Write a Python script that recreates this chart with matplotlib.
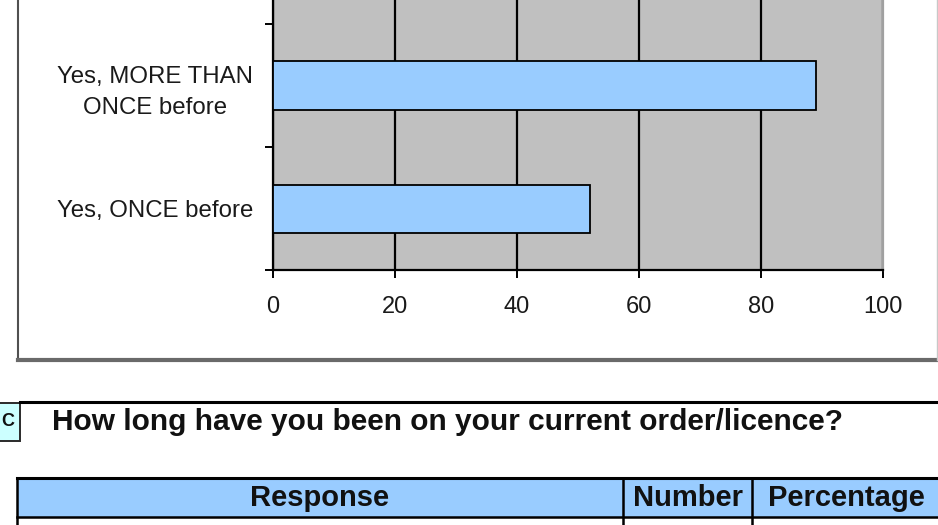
import matplotlib
matplotlib.use("Agg")
import matplotlib.pyplot as plt
from matplotlib.patches import Rectangle
from matplotlib.lines import Line2D

plt.rcParams['font.family'] = ['Liberation Sans', 'DejaVu Sans']

# ---- data ----
categories = ["Yes, ONCE before", "Yes, MORE THAN\nONCE before"]
values = [52, 89]
x_ticks = [0, 20, 40, 60, 80, 100]
section_letter = "C"
section_title = "How long have you been on your current order/licence?"
table_headers = ["Response", "Number", "Percentage"]

W, H = 938, 525
fig = plt.figure(figsize=(W / 100, H / 100), dpi=100)
fig.patch.set_facecolor("white")


def fx(x):
    return x / W


def fy(y):
    return 1 - y / H


# ---- chart outer box ----
fig.add_artist(Line2D([fx(18), fx(18)], [fy(-5), fy(360)], color="#505050", lw=1.5))
fig.add_artist(Line2D([fx(18), fx(940)], [fy(360), fy(360)], color="#6a6a6a", lw=3.0))
fig.add_artist(Line2D([fx(936.5), fx(936.5)], [fy(-5), fy(360)], color="#c8c8c8", lw=1.0))

# ---- bar chart ----
unit = 123.0
ax = fig.add_axes([fx(273), fy(270), (883 - 273) / W, 270 / H])
ax.set_facecolor("#C0C0C0")
pos = list(range(len(categories)))
ax.barh(pos, values, height=48 / unit, color="#99CCFF", edgecolor="black", linewidth=1.3, zorder=3)
ax.set_xlim(0, 100)
ax.set_ylim(-0.5, -0.5 + 270 / unit)
ax.set_xticks(x_ticks)
ax.set_xticklabels([str(t) for t in x_ticks])
ax.xaxis.grid(True, color="black", linewidth=1.6, zorder=1)
ax.set_axisbelow(True)

ax.set_yticks([-0.5, 0.5, 1.5])
ax.set_yticklabels([])
ax.set_yticks(pos, minor=True)
ax.set_yticklabels(categories, minor=True)
for lab in ax.get_yticklabels(minor=True):
    lab.set_multialignment("center")
    lab.set_linespacing(1.55)
ax.tick_params(axis="y", which="major", length=5.8, width=1.4, direction="out", color="black")
ax.tick_params(axis="y", which="minor", length=0, pad=14.4, labelsize=17.3, labelcolor="#1a1a1a")
ax.tick_params(axis="x", which="major", length=5.8, width=1.4, direction="out", color="black",
               pad=13, labelsize=17, labelcolor="#1a1a1a")

for s in ["left", "bottom"]:
    ax.spines[s].set_color("black")
    ax.spines[s].set_linewidth(1.6)
ax.spines["top"].set_visible(False)
ax.spines["right"].set_color("#a0a0a0")
ax.spines["right"].set_linewidth(1.6)

# ---- section header ----
fig.add_artist(Line2D([fx(20), fx(940)], [fy(402), fy(402)], color="black", lw=2.2))
fig.add_artist(Rectangle((fx(-3), fy(441)), 23 / W, 38 / H, facecolor="#CCFFFF",
                         edgecolor="#2a2a2a", lw=1.4, transform=fig.transFigure))
fig.text(fx(1.5), fy(422), section_letter, ha="left", va="center", fontsize=13,
         fontweight="bold", color="#111111")
fig.text(fx(52), fy(422), section_title, ha="left", va="center", fontsize=21.5,
         fontweight="bold", color="#111111")

# ---- table header ----
col_edges = [17, 623, 752, 945]
fig.add_artist(Rectangle((fx(17), fy(517)), (945 - 17) / W, 39 / H, facecolor="#99CCFF",
                         edgecolor="none", transform=fig.transFigure))
fig.add_artist(Line2D([fx(17), fx(945)], [fy(478), fy(478)], color="black", lw=2.2))
fig.add_artist(Line2D([fx(17), fx(945)], [fy(517), fy(517)], color="black", lw=1.8))
for xe in col_edges[:3]:
    fig.add_artist(Line2D([fx(xe), fx(xe)], [fy(478), fy(530)], color="black", lw=1.8))
for i, hdr in enumerate(table_headers):
    cx = (col_edges[i] + col_edges[i + 1]) / 2
    if i == 2:
        cx = 846
    fig.text(fx(cx), fy(498), hdr, ha="center", va="center", fontsize=21,
             fontweight="bold", color="#111111")

fig.savefig("out.png", dpi=100)
